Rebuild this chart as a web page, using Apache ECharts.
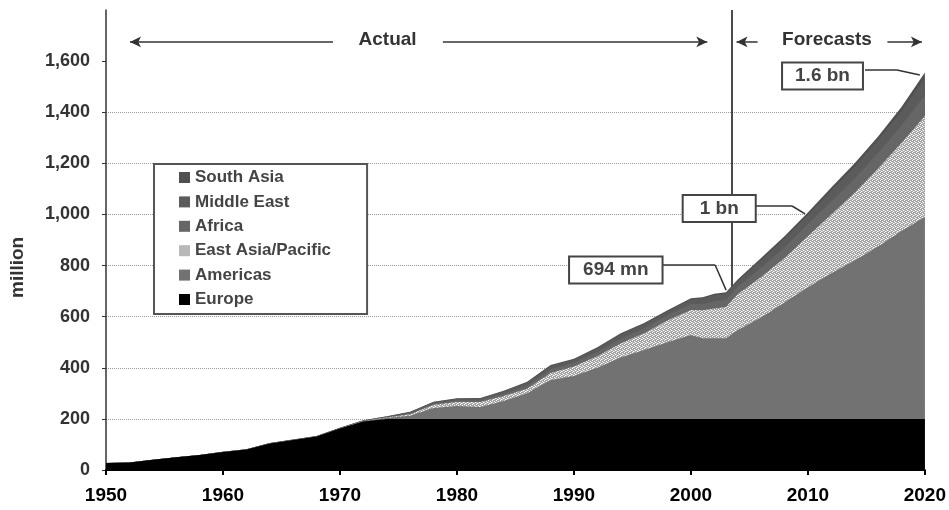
<!DOCTYPE html>
<html>
<head>
<meta charset="utf-8">
<script src="https://cdn.jsdelivr.net/npm/echarts@6/dist/echarts.min.js"></script>
<style>
  html, body { margin: 0; padding: 0; background: #fff; }
  #chart { width: 949px; height: 510px; }
</style>
</head>
<body>
<div id="chart"></div>
<script>
// international arrivals by region, million
var years = [1950,1952,1954,1956,1958,1960,1962,1964,1966,1968,1970,1972,1974,1976,1978,1980,1982,1984,1986,1988,1990,1992,1994,1996,1998,2000,2001,2002,2003,2004,2006,2008,2010,2012,2014,2016,2018,2020];
var europe     = [27,29,40,50,59,70,80,104,117,131,162,190,200,200,200,200,200,200,200,200,200,200,200,200,200,200,200,200,200,200,200,200,200,200,200,200,200,200];
var americas   = [0,0,0,0,0,0,0,0,0,0,0,2,3,12,43,50,47,70,100,152,168,200,240,270,300,328,316,316,316,348,397,455,515,570,620,675,735,790];
var eastAsia   = [0,0,0,0,0,0,0,0,0,0,0,0,2,6,12,16,19,20,18,28,37,45,55,65,85,98,109,116,122,140,158,175,200,230,265,305,345,395];
var africa     = [0,0,0,0,0,1,1,1,1,1,2,2,2,4,5,7,7,9,12,14,15,17,19,20,21,24,25,28,28,28,36,41,47,52,56,61,68,80];
var middleEast = [0,0,0,0,0,0,0,1,1,1,1,1,2,5,6,6,7,9,12,14,12,14,17,16,15,17,21,25,24,23,30,34,36,41,46,50,56,71];
var southAsia  = [0,0,0,0,0,0,0,0,0,0,0,0,1,1,1,2,2,2,3,3,3,4,4,4,4,5,5,5,6,6,9,10,10,12,13,14,16,19];

var yTicks = [0,200,400,600,800,1000,1200,1400,1600];
var legendOrder = ['South Asia','Middle East','Africa','East Asia/Pacific','Americas','Europe'];

// annotations, in data coords [year, million]
var forecastStart = 2003.45;
var arrowY = 1675;
var actualArrows = [[1969.4, 1952.05], [1978.8, 2001.4]];
var forecastArrows = [[2005.7, 2003.9], [2016.8, 2019.75]];
var callouts = [
  { text: '694 mn', at: [1993.58, 783], lead: [[1997.55, 802], [2002.07, 802], [2003.01, 704]], pad: [3, 13] },
  { text: '1 bn', at: [2002.42, 1023], lead: [[2005.57, 1033], [2008.65, 1033], [2009.76, 1002]], pad: [3, 16] },
  { text: '1.6 bn', at: [2011.25, 1542], lead: [[2014.88, 1565], [2017.61, 1565], [2019.57, 1546]], pad: [3, 12] }
];

// stack order, bottom first
var layers = [
  { name: 'Europe', vals: europe, color: '#000000' },
  { name: 'Americas', vals: americas, color: '#727272' },
  { name: 'East Asia/Pacific', vals: eastAsia, color: '#b8b8b8', speckle: true },
  { name: 'Africa', vals: africa, color: '#666666' },
  { name: 'Middle East', vals: middleEast, color: '#5b5b5b' },
  { name: 'South Asia', vals: southAsia, color: '#505050' }
];

// speckled fill for East Asia/Pacific
function speckle() {
  var c = document.createElement('canvas');
  c.width = 4; c.height = 4;
  var g = c.getContext('2d');
  g.fillStyle = '#a4a4a4'; g.fillRect(0, 0, 4, 4);
  g.fillStyle = '#ffffff';
  [[0,0],[2,1],[1,3],[3,2]].forEach(function (p) { g.fillRect(p[0], p[1], 1, 1); });
  g.fillStyle = '#d4d4d4';
  [[2,3],[0,2]].forEach(function (p) { g.fillRect(p[0], p[1], 1, 1); });
  return c;
}

// running totals so each layer is filled from 0 up to its top;
// drawn top layer first so the lower ones sit over it
var running = years.map(function () { return 0; });
var areaSeries = layers.map(function (l) {
  running = running.map(function (s, i) { return s + l.vals[i]; });
  var tops = running.slice();
  return {
    name: l.name, type: 'line',
    data: years.map(function (y, i) { return [y, tops[i]]; }),
    showSymbol: false, symbol: 'none', lineStyle: { width: 0 },
    itemStyle: { color: l.color },
    areaStyle: { color: l.speckle ? { image: speckle(), repeat: 'repeat' } : l.color, opacity: 1 }
  };
}).reverse();

var font = 'Liberation Sans, Arial, sans-serif';
var arrowLine = { color: '#333', width: 1.5, type: 'solid' };

var leadData = [];
callouts.forEach(function (c) {
  for (var i = 0; i < c.lead.length - 1; i++) {
    leadData.push([{ coord: c.lead[i] }, { coord: c.lead[i + 1] }]);
  }
});

var chart = echarts.init(document.getElementById('chart'), null, { renderer: 'canvas' });
chart.setOption({
  animation: false,
  backgroundColor: '#fff',
  grid: { left: 106, right: 23, top: 10, bottom: 40 },
  legend: {
    data: legendOrder,
    orient: 'vertical',
    left: 154, top: 164,
    icon: 'rect', itemWidth: 11, itemHeight: 11, itemGap: 7.4,
    padding: [5, 36, 6, 25],
    borderColor: '#555', borderWidth: 2, backgroundColor: '#fff',
    textStyle: { fontFamily: font, fontSize: 17, fontWeight: 'bold', color: '#444', lineHeight: 17 },
    selectedMode: false
  },
  xAxis: {
    type: 'value', min: 1950, max: 2020, interval: 10,
    axisLine: { lineStyle: { color: '#000', width: 2 } },
    axisTick: { show: true, length: 5, lineStyle: { color: '#000', width: 2 } },
    axisLabel: {
      fontFamily: font, fontSize: 19, fontWeight: 'bold', color: '#000', margin: 16,
      formatter: function (v) { return String(v); }
    },
    splitLine: { show: false }
  },
  yAxis: {
    type: 'value', min: 0, max: 1800, interval: 200,
    axisLine: { show: true, lineStyle: { color: '#333', width: 1.5 } },
    axisTick: { show: true, length: 4, customValues: yTicks, lineStyle: { color: '#333' } },
    axisLabel: {
      customValues: yTicks,
      fontFamily: font, fontSize: 18, fontWeight: 'bold', color: '#333', margin: 16,
      formatter: function (v) { return v.toLocaleString('en-US'); }
    },
    splitLine: { show: true, showMaxLine: false, lineStyle: { color: '#999', type: 'dotted', width: 1 } }
  },
  graphic: [{
    type: 'text', x: 8, y: 298, rotation: Math.PI / 2,
    style: { text: 'million', fontFamily: font, fontSize: 19, fontWeight: 'bold', fill: '#333' }
  }],
  series: areaSeries.concat([
    {
      // divider between actual and forecast, sits behind the areas
      name: 'divider', type: 'line', data: [], z: 1,
      markLine: {
        z: 1, silent: true, symbol: 'none', label: { show: false },
        lineStyle: { color: '#111', width: 1.5, type: 'solid' },
        data: [{ xAxis: forecastStart }]
      }
    },
    {
      name: 'arrows', type: 'line', data: [], z: 10,
      markLine: {
        z: 10, silent: true, symbol: ['none', 'arrow'], symbolSize: [8, 11],
        label: { show: false }, lineStyle: arrowLine,
        data: actualArrows.concat(forecastArrows).map(function (a) {
          return [{ coord: [a[0], arrowY] }, { coord: [a[1], arrowY] }];
        })
      },
      markPoint: {
        z: 10, silent: true, symbol: 'rect', symbolSize: 0,
        label: { show: true, position: 'inside', fontFamily: font, fontSize: 19, fontWeight: 'bold', color: '#333' },
        data: [
          { coord: [1974.07, arrowY + 8], label: { formatter: 'Actual' } },
          { coord: [2011.63, arrowY + 8], label: { formatter: 'Forecasts' } }
        ]
      }
    },
    {
      name: 'callouts', type: 'line', data: [], z: 11,
      markLine: {
        z: 11, silent: true, symbol: 'none', label: { show: false },
        lineStyle: { color: '#333', width: 1.5, type: 'solid' },
        data: leadData
      },
      markPoint: {
        z: 11, silent: true, symbol: 'rect', symbolSize: 0,
        data: callouts.map(function (c) {
          return {
            coord: c.at,
            label: {
              show: true, position: 'inside', formatter: c.text,
              fontFamily: font, fontSize: 19, fontWeight: 'bold', color: '#444',
              backgroundColor: '#fff', borderColor: '#444', borderWidth: 2, padding: c.pad
            }
          };
        })
      }
    }
  ])
});
</script>
</body>
</html>
